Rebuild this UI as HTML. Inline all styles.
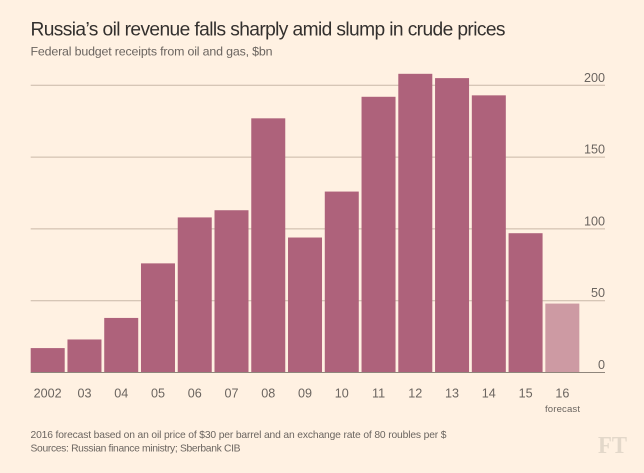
<!DOCTYPE html>
<html lang="en">
<head>
<meta charset="utf-8">
<title>Russia's oil revenue</title>
<style>
html,body{margin:0;padding:0;background:#fff1e2;}
svg{display:block;font-family:"Liberation Sans",sans-serif;}
</style>
</head>
<body>
<svg id="chart" width="644" height="473" viewBox="0 0 644 473" xmlns="http://www.w3.org/2000/svg">
<rect x="0" y="0" width="644" height="473" fill="#fff1e2"/>
<text x="30.5" y="35.5" font-size="19.2" fill="#33302e" textLength="475" lengthAdjust="spacing">Russia’s oil revenue falls sharply amid slump in crude prices</text>
<text x="30.5" y="55.5" font-size="12.4" fill="#6b6560" textLength="242" lengthAdjust="spacing">Federal budget receipts from oil and gas, $bn</text>
<g id="grid"></g>
<g id="bars"></g>
<g id="baseline-layer"></g>
<g id="ylabels"></g>
<g id="xlabels"></g>
<text x="562.5" y="412" font-size="9.6" fill="#6b6560" text-anchor="middle" textLength="35" lengthAdjust="spacing">forecast</text>
<text x="30.5" y="438" font-size="10.3" fill="#6b6560" textLength="416" lengthAdjust="spacing">2016 forecast based on an oil price of $30 per barrel and an exchange rate of 80 roubles per $</text>
<text x="30.5" y="451.5" font-size="10.3" fill="#6b6560" textLength="210" lengthAdjust="spacing">Sources: Russian finance ministry; Sberbank CIB</text>
<text x="598" y="453" font-size="24" font-weight="bold" fill="#e3d8ca" font-family="'Liberation Serif',serif" textLength="29" lengthAdjust="spacingAndGlyphs">FT</text>
</svg>
<script>
const categories = ['2002','03','04','05','06','07','08','09','10','11','12','13','14','15','16'];
const revenue = [17,23,38,76,108,113,177,94,126,192,208,205,193,97,48];
const forecastCategories = ['16'];
const yTicks = [0,50,100,150,200];

const NS = 'http://www.w3.org/2000/svg';
const plot = {left: 30.7, right: 605, y0: 372.5, y200: 85.3, pitch: 36.76, barWidth: 34};
function yScale(v){ return plot.y0 - (v / 200) * (plot.y0 - plot.y200); }
function xScale(i){ return plot.left + i * plot.pitch; }
function make(tag, attrs){
  const el = document.createElementNS(NS, tag);
  Object.keys(attrs).forEach(function(k){ el.setAttribute(k, attrs[k]); });
  return el;
}
const gridG = document.getElementById('grid');
const barsG = document.getElementById('bars');
const baseG = document.getElementById('baseline-layer');
const yG = document.getElementById('ylabels');
const xG = document.getElementById('xlabels');

yTicks.forEach(function(t){
  const y = yScale(t);
  const line = make('line', {x1: plot.left, x2: plot.right, y1: y, y2: y, stroke: t === 0 ? '#8f867c' : '#c9b8a7', 'stroke-width': 1});
  
  
  (t === 0 ? baseG : gridG).appendChild(line);
  const label = make('text', {x: plot.right, y: y - 3.5, 'text-anchor': 'end', 'font-size': 12.6, fill: '#6b6560'});
  
  
  label.textContent = t;
  yG.appendChild(label);
});

categories.forEach(function(c, i){
  const top = yScale(revenue[i]);
  const isForecast = forecastCategories.indexOf(c) !== -1;
  const bar = make('rect', {x: xScale(i), y: top, width: plot.barWidth, height: plot.y0 - top, fill: isForecast ? '#cd9aa3' : '#ae627b'});
  
  
  barsG.appendChild(bar);
  const label = make('text', {x: xScale(i) + plot.barWidth / 2, y: 397.7, 'text-anchor': 'middle', 'font-size': 12.6, fill: '#6b6560'});
  
  
  label.textContent = c;
  xG.appendChild(label);
});
</script>
</body>
</html>
